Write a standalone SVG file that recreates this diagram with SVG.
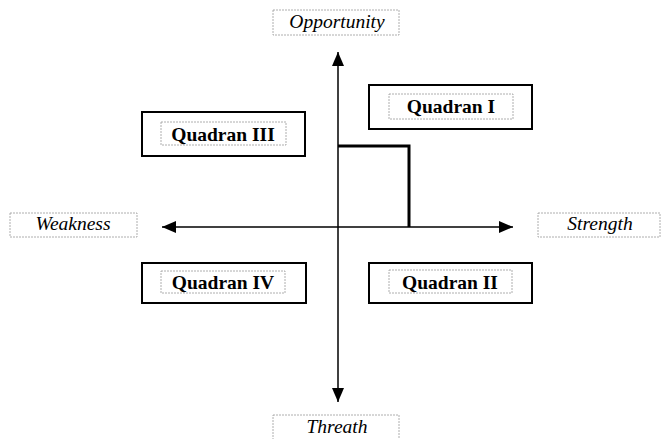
<svg xmlns="http://www.w3.org/2000/svg" width="661" height="439" viewBox="0 0 661 439">
<style>
.quad{fill:#fff;stroke:#000;stroke-width:2}
.lbl{fill:#fff;stroke:#999;stroke-width:0.8;stroke-dasharray:2 1}
.qt{font-family:"Liberation Serif",serif;font-weight:bold;font-size:19.5px;text-anchor:middle;fill:#000}
.at{font-family:"Liberation Serif",serif;font-style:italic;font-size:19.5px;text-anchor:middle;fill:#000}
.axis{stroke:#000;stroke-width:1.5;fill:none}
</style>
<defs>
<marker id="ah" viewBox="0 0 14 12" refX="14" refY="6" markerWidth="14" markerHeight="12" markerUnits="userSpaceOnUse" orient="auto">
<path d="M0,0 L14,6 L0,12 z" fill="#000"/>
</marker>
</defs>
<rect width="661" height="439" fill="#fff"/>
<g id="connectors">
<line class="axis" x1="338" y1="227" x2="338" y2="52" marker-end="url(#ah)"/>
<line class="axis" x1="338" y1="227" x2="338" y2="402" marker-end="url(#ah)"/>
<line class="axis" x1="338" y1="227" x2="162" y2="227" marker-end="url(#ah)"/>
<line class="axis" x1="338" y1="227" x2="513" y2="227" marker-end="url(#ah)"/>
<polyline points="338,146 409,146 409,227" fill="none" stroke="#000" stroke-width="3"/>
</g>
<g id="opportunity">
<rect class="lbl" x="273" y="10" width="126" height="25"/>
<text class="at" x="337" y="28">Opportunity</text>
</g>
<g id="threath">
<rect class="lbl" x="273" y="415" width="126" height="26"/>
<text class="at" x="337" y="433">Threath</text>
</g>
<g id="weakness">
<rect class="lbl" x="10" y="213" width="127" height="24"/>
<text class="at" x="73" y="230">Weakness</text>
</g>
<g id="strength">
<rect class="lbl" x="538" y="213" width="122" height="24"/>
<text class="at" x="600" y="230">Strength</text>
</g>
<g id="quadran1">
<rect class="quad" x="369" y="85" width="163" height="44"/>
<rect class="lbl" x="389" y="94" width="124" height="25"/>
<text class="qt" x="451" y="113">Quadran I</text>
</g>
<g id="quadran3">
<rect class="quad" x="142" y="112" width="163" height="44"/>
<rect class="lbl" x="161" y="122" width="125" height="23"/>
<text class="qt" x="223" y="141">Quadran III</text>
</g>
<g id="quadran4">
<rect class="quad" x="142" y="263" width="164" height="40"/>
<rect class="lbl" x="161" y="271" width="124" height="22"/>
<text class="qt" x="223" y="289">Quadran IV</text>
</g>
<g id="quadran2">
<rect class="quad" x="369" y="263" width="163" height="40"/>
<rect class="lbl" x="389" y="270" width="123" height="23"/>
<text class="qt" x="450" y="289">Quadran II</text>
</g>
</svg>
